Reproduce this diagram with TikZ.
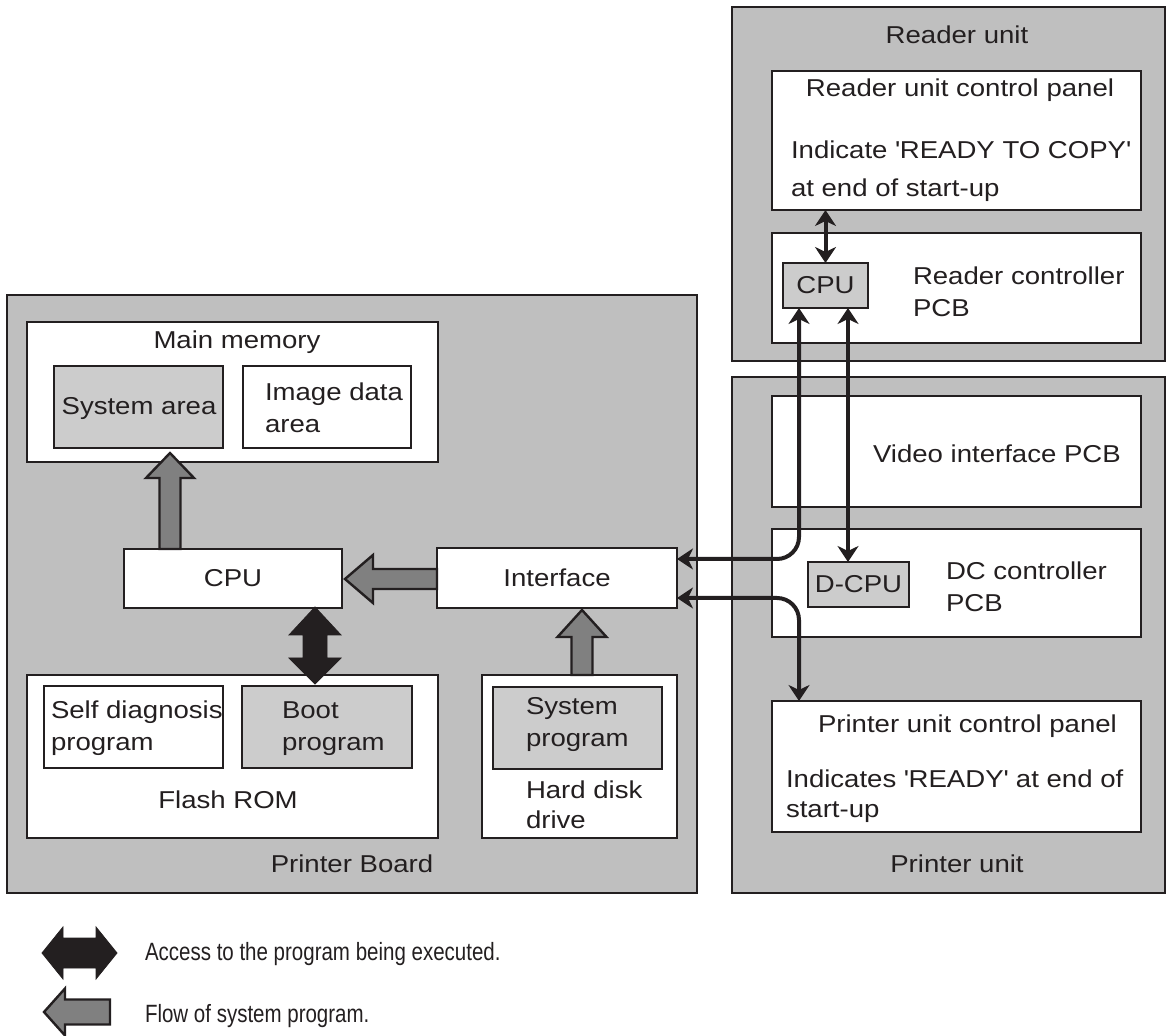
\documentclass[tikz,border=0pt]{standalone}
\usepackage{fontspec}
\setmainfont{Liberation Sans}[FakeStretch=1.13]
\newfontfamily\legendfamily{Liberation Sans}[FakeStretch=0.82]
\usetikzlibrary{arrows.meta,calc,fit}

\definecolor{ink}{HTML}{231F20}
\definecolor{unitgray}{HTML}{BFBFBF}
\definecolor{chipgray}{HTML}{CCCCCC}
\definecolor{flowgray}{HTML}{808080}

\tikzset{
  sighead/.tip={Stealth[length=8pt,width=10.5pt,inset=2.5pt]},
  frame/.style={draw=ink, line width=1.2pt, inner sep=0pt, outer sep=0pt},
  unit/.style={frame, fill=unitgray},
  board/.style={frame, fill=white},
  chip/.style={frame, fill=chipgray},
  lbl/.style={inner sep=0pt, outer sep=0pt, text=ink, align=left,
              font=\fontsize{12.2}{16}\selectfont},
  legendlbl/.style={lbl, font=\fontsize{12.5}{15}\legendfamily},
  link/.style={draw=ink, line width=2pt, sighead-sighead, rounded corners=11pt},
  flow/.style={draw=ink, line width=1.2pt, fill=flowgray, line join=miter},
  access/.style={fill=ink, draw=ink, line width=0.4pt, line join=miter},
}

% upward block arrow: #1 tail, #2 tip, #3 shaft half width, #4 head half width, #5 head length
\newcommand\flowup[5]{%
  \draw[flow] let \p1=#1, \p2=#2 in
    ({\x1-#3},\y1) -- ({\x1-#3},{\y2-#5}) -- ({\x1-#4},{\y2-#5}) -- (\x1,\y2)
    -- ({\x1+#4},{\y2-#5}) -- ({\x1+#3},{\y2-#5}) -- ({\x1+#3},\y1) -- cycle;}
% leftward block arrow: #1 tail, #2 tip, #3 shaft half height, #4 head half height, #5 head length
\newcommand\flowleft[5]{%
  \draw[flow] let \p1=#1, \p2=#2 in
    (\x1,{\y1+#3}) -- ({\x2+#5},{\y1+#3}) -- ({\x2+#5},{\y1+#4}) -- (\x2,\y1)
    -- ({\x2+#5},{\y1-#4}) -- ({\x2+#5},{\y1-#3}) -- (\x1,{\y1-#3}) -- cycle;}
% vertical double block arrow: #1 upper tip, #2 lower tip
\newcommand\accessvert[2]{%
  \draw[access] let \p1=#1, \p2=#2 in
    (\x1,\y1) -- ({\x1+13pt},{\y1-14pt}) -- ({\x1+6pt},{\y1-14pt})
    -- ({\x1+6pt},{\y2+13pt}) -- ({\x1+13pt},{\y2+13pt}) -- (\x1,\y2)
    -- ({\x1-13pt},{\y2+13pt}) -- ({\x1-6pt},{\y2+13pt})
    -- ({\x1-6pt},{\y1-14pt}) -- ({\x1-13pt},{\y1-14pt}) -- cycle;}
% horizontal double block arrow: #1 left tip, #2 right tip
\newcommand\accesshoriz[2]{%
  \draw[access] let \p1=#1, \p2=#2 in
    (\x1,\y1) -- ({\x1+10.5pt},{\y1+13pt}) -- ({\x1+10.5pt},{\y1+7.5pt})
    -- ({\x2-10.5pt},{\y1+7.5pt}) -- ({\x2-10.5pt},{\y1+13pt}) -- (\x2,\y1)
    -- ({\x2-10.5pt},{\y1-13pt}) -- ({\x2-10.5pt},{\y1-7.5pt})
    -- ({\x1+10.5pt},{\y1-7.5pt}) -- ({\x1+10.5pt},{\y1-13pt}) -- cycle;}

\begin{document}
\begin{tikzpicture}[x=0.5pt, y=-0.5pt]
\useasboundingbox (0,0) rectangle (1167,1036);

% ---- outer units ----
\node[unit, fit={(7,295)(697,893)}] (pb) {};
\node[unit, fit={(732,7)(1165,361)}] (ru) {};
\node[unit, fit={(732,377)(1165,893)}] (pu) {};

% ---- reader unit ----
\node[board, fit={(772,71)(1141,210)}] (rpanel) {};
\node[board, fit={(772,233)(1141,343)}] (rctrl) {};
\node[chip, fit={(783,263)(868,308)}] (rcpu) {};

% ---- printer unit ----
\node[board, fit={(772,396)(1141,507)}] (video) {};
\node[board, fit={(772,529)(1141,637)}] (dcctrl) {};
\node[chip, fit={(808,562)(909,607)}] (dcpu) {};
\node[board, fit={(772,701)(1141,832)}] (ppanel) {};

% ---- printer board ----
\node[board, fit={(27,322)(438,462)}] (mem) {};
\node[chip, fit={(54,366)(223,448)}] (sysarea) {};
\node[board, fit={(243,366)(411,448)}] (imgarea) {};
\node[board, fit={(124,549)(342,608)}] (cpu) {};
\node[board, fit={(437,548)(677,608)}] (iface) {};
\node[board, fit={(27,675)(438,838)}] (flash) {};
\node[board, fit={(44,686)(223,768)}] (selfdiag) {};
\node[chip, fit={(242,686)(412,768)}] (boot) {};
\node[board, fit={(482,675)(677,838)}] (hdd) {};
\node[chip, fit={(493,687)(662,769)}] (sysprog) {};

% ---- labels (multi-line labels sit on the baseline of their last line) ----
\node[lbl, anchor=base] (t-ru) at (957,44) {Reader unit};
\node[lbl, anchor=base] (t-rpanel) at (960,97) {Reader unit control panel};
\node[lbl, anchor=base west] (t-rpanel2) at (791,197)
  {Indicate \textquotesingle READY TO COPY\textquotesingle\\[3pt]at end of start-up};
\node[lbl, anchor=base west] (t-rctrl) at (913,317) {Reader controller\\PCB};
\node[lbl] (t-rcpu) at (rcpu.center) {CPU};
\node[lbl, anchor=base west] (t-video) at (873,463) {Video interface PCB};
\node[lbl, anchor=base west] (t-dc) at (946,612) {DC controller\\PCB};
\node[lbl] (t-dcpu) at (dcpu.center) {D-CPU};
\node[lbl, anchor=base west] (t-ppanel) at (818,733) {Printer unit control panel};
\node[lbl, anchor=base west] (t-ppanel2) at (786,817)
  {Indicates \textquotesingle READY\textquotesingle{} at end of\\[-1pt]start-up};
\node[lbl, anchor=base] (t-pu) at (957,872) {Printer unit};

\node[lbl, anchor=base] (t-mem) at (237,349) {Main memory};
\node[lbl, anchor=base] (t-sysarea) at (139,415) {System area};
\node[lbl, anchor=base west] (t-img) at (265,433) {Image data\\area};
\node[lbl] (t-cpu) at (cpu.center) {CPU};
\node[lbl] (t-iface) at (iface.center) {Interface};
\node[lbl, anchor=base west] (t-self) at (51,750) {Self diagnosis\\program};
\node[lbl, anchor=base west] (t-boot) at (282,750) {Boot\\program};
\node[lbl, anchor=base] (t-flash) at (228,808) {Flash ROM};
\node[lbl, anchor=base west] (t-sys) at (526,747) {System\\program};
\node[lbl, anchor=base west] (t-hdd) at (526,828) {Hard disk\\[-1pt]drive};
\node[lbl, anchor=base] (t-pb) at (352,872) {Printer Board};

% ---- signal connectors ----
\draw[link] (rcpu.north) -- (rcpu.north |- rpanel.south);
\draw[link] ($(iface.north east)+(0,11)$) -| ($(rcpu.south west)+(16,0)$);
\coordinate (rx) at ($(rcpu.south east)+(-20,0)$);
\draw[link] (rx) -- (rx |- dcpu.north);
\draw[link] ($(iface.south east)+(0,-10)$) -| ($(ppanel.north west)+(27,0)$);

% ---- program flow arrows ----
\coordinate (f1a) at ($(cpu.north west)+(46,0)$);
\coordinate (f1b) at ($(f1a |- mem.south)+(0,-9)$);
\flowup{(f1a)}{(f1b)}{5.25pt}{12pt}{12.5pt}

\coordinate (f2a) at ($(iface.west)+(0,1)$);
\coordinate (f2b) at ($(cpu.east)+(3,1)$);
\flowleft{(f2a)}{(f2b)}{5pt}{12pt}{14pt}

\coordinate (f3a) at ($(hdd.north west)+(100,0)$);
\coordinate (f3b) at ($(f3a |- iface.south)+(0,2)$);
\flowup{(f3a)}{(f3b)}{5.25pt}{12.25pt}{13.5pt}

% ---- program access arrow ----
\coordinate (acca) at ($(cpu.south west)+(191,-1)$);
\coordinate (accb) at ($(acca |- flash.north)+(0,9)$);
\accessvert{(acca)}{(accb)}

% ---- legend ----
\coordinate (lg1a) at (42,953);
\coordinate (lg1b) at (117,953);
\accesshoriz{(lg1a)}{(lg1b)}
\node[legendlbl, anchor=base west] (t-lg1) at (145,960) {Access to the program being executed.};
\coordinate (lg2a) at (110,1012);
\coordinate (lg2b) at (44,1012);
\flowleft{(lg2a)}{(lg2b)}{6.25pt}{11.75pt}{10.5pt}
\node[legendlbl, anchor=base west] (t-lg2) at (145,1022) {Flow of system program.};
\end{tikzpicture}
\end{document}
